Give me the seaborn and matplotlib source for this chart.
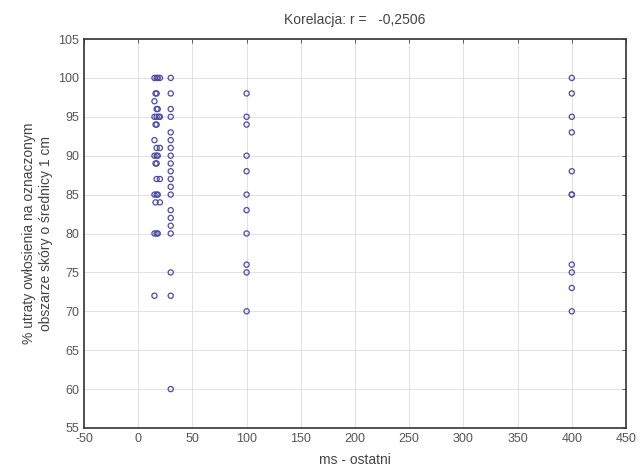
import numpy as np
import pandas as pd
import matplotlib.pyplot as plt
import seaborn as sns

# ms - ostatni / % utraty owlosienia
x_col1 = [17, 15, 20, 18, 17, 16, 15, 17, 18, 20, 15, 17, 19, 17, 16, 15, 17, 20,
          17, 15, 18, 17, 16, 17, 20, 15, 17, 18, 20, 16, 15, 17, 18, 15]
y_col1 = [100, 100, 100, 100, 98, 98, 97, 96, 96, 95, 95, 95, 95, 94, 94, 92, 91, 91,
          90, 90, 90, 89, 89, 87, 87, 85, 85, 85, 84, 84, 80, 80, 80, 72]

x_col2 = [30] * 20
y_col2 = [100, 98, 96, 95, 93, 92, 91, 90, 89, 88, 87, 86, 85, 83, 82, 81, 80, 75, 72, 60]

x_col3 = [100] * 11
y_col3 = [98, 95, 94, 90, 88, 85, 83, 80, 76, 75, 70]

x_col4 = [400] * 11
y_col4 = [100, 98, 95, 93, 88, 85, 85, 76, 75, 73, 70]

x_ticks = [-50, 0, 50, 100, 150, 200, 250, 300, 350, 400, 450]
y_ticks = [55, 60, 65, 70, 75, 80, 85, 90, 95, 100, 105]

df = pd.DataFrame({
    "ms": x_col1 + x_col2 + x_col3 + x_col4,
    "proc": y_col1 + y_col2 + y_col3 + y_col4,
})

sns.set_style("white")
plt.rcParams["font.family"] = ["Liberation Sans", "DejaVu Sans"]
plt.rcParams["axes.unicode_minus"] = False

fig = plt.figure(figsize=(6.41, 4.75), dpi=100)
ax = fig.add_axes([84 / 641, 1 - 428 / 475, (626 - 84) / 641, (428 - 39) / 475])

sns.scatterplot(data=df, x="ms", y="proc", ax=ax, marker="o", s=14,
                facecolors="none", edgecolor="#4b4bab", linewidth=0.9, zorder=3)

ax.set_xlim(-50, 450)
ax.set_ylim(55, 105)
ax.set_xticks(x_ticks)
ax.set_yticks(y_ticks)
ax.grid(True, color="#dcdcdc", linewidth=0.6, linestyle="-")
ax.tick_params(direction="in", length=3, top=True, right=True, labelsize=9,
               labelcolor="#555555", color="#444444", width=0.6)
for sp in ax.spines.values():
    sp.set_color("#333333")
    sp.set_linewidth(1.2)

ax.set_title("Korelacja: r =   -0,2506", fontsize=10, color="#444444", pad=11)
ax.set_xlabel("ms - ostatni", fontsize=10, color="#444444", labelpad=6)
ax.set_ylabel("% utraty owłosienia na oznaczonym\nobszarze skóry o średnicy 1 cm",
              fontsize=10, color="#444444", labelpad=4)

fig.savefig("out.png", dpi=100)
